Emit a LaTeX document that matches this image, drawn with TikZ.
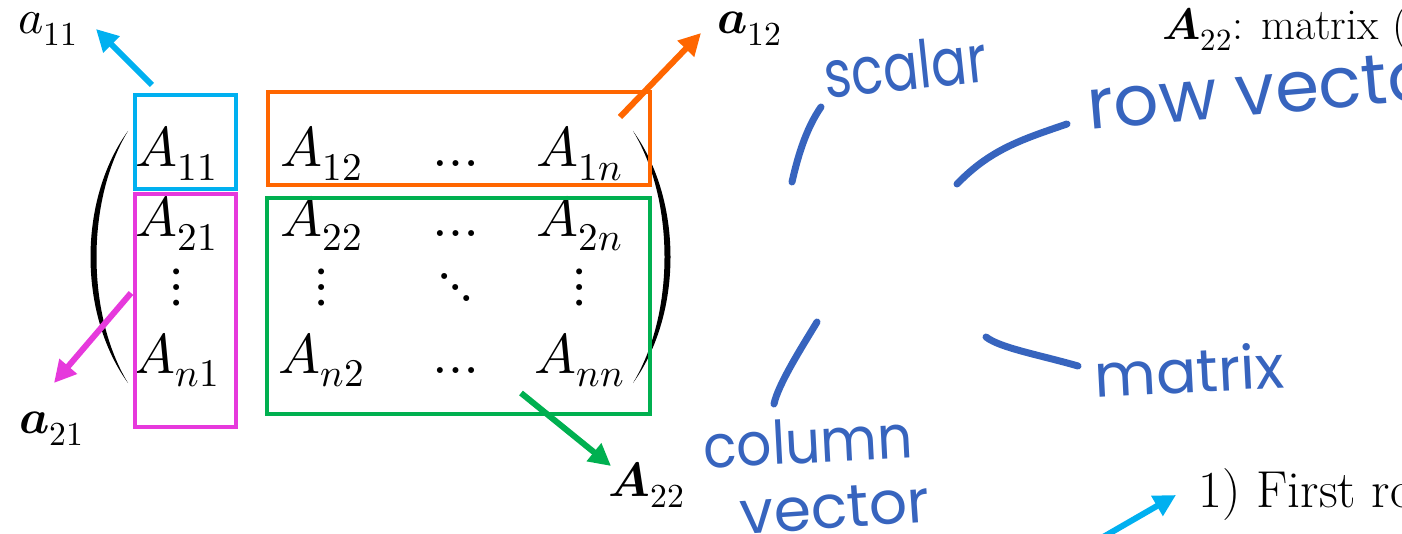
\documentclass[tikz,border=0pt]{standalone}
\usepackage{fontspec}
\usepackage{unicode-math}
\setmathfont{Latin Modern Math}
\newfontfamily\handfont{Poppins}
\usetikzlibrary{arrows.meta}
\definecolor{boxcyan}{RGB}{0,176,240}
\definecolor{boxorange}{RGB}{255,102,0}
\definecolor{boxmagenta}{RGB}{230,57,220}
\definecolor{boxgreen}{RGB}{0,176,80}
\definecolor{inkblue}{RGB}{55,100,190}
\begin{document}
\begin{tikzpicture}[x=0.5pt, y=-0.5pt, >={Triangle[length=11pt,width=11pt]},
  entry/.style={anchor=base, inner sep=0pt, font=\fontsize{28}{32}\selectfont},
  frame/.style={draw, line width=2pt, inner sep=0pt},
  pointer/.style={->, line width=3pt},
  lbl/.style={inner sep=0pt, font=\fontsize{24}{28}\selectfont},
  ink/.style={inkblue, line width=3.5pt, line cap=round},
  hand/.style={inkblue, inner sep=0pt, font=\handfont\fontsize{30}{30}\selectfont}]
\useasboundingbox (0,0) rectangle (1402,534);
\clip (0,0) rectangle (1402,534);

\node[entry] (m11) at (177,167) {$A_{11}$};
\node[entry] (m12) at (322,167) {$A_{12}$};
\node[entry] (m1d) at (456,167) {$\ldots$};
\node[entry] (m1n) at (580,167) {$A_{1n}$};

\node[entry] (m21) at (177,237) {$A_{21}$};
\node[entry] (m22) at (322,237) {$A_{22}$};
\node[entry] (m2d) at (456,237) {$\ldots$};
\node[entry] (m2n) at (580,237) {$A_{2n}$};

\node[entry, anchor=center] (v1) at (177,287) {$\vdots$};
\node[entry, anchor=center] (v2) at (322,287) {$\vdots$};
\node[entry, anchor=center] (dd) at (456,287) {$\ddots$};
\node[entry, anchor=center] (vn) at (580,287) {$\vdots$};

\node[entry] (mn1) at (177,373) {$A_{n1}$};
\node[entry] (mn2) at (322,373) {$A_{n2}$};
\node[entry] (mnd) at (456,373) {$\ldots$};
\node[entry] (mnn) at (580,373) {$A_{nn}$};

\fill (128,131) .. controls (78,200) and (78,314) .. (128,383)
  .. controls (86,314) and (86,200) .. (128,131);
\fill (633,131) .. controls (683,200) and (683,314) .. (633,383)
  .. controls (675,314) and (675,200) .. (633,131);

\node[frame, boxcyan, minimum width=50.5pt, minimum height=47pt] (b11) at (185.5,142) {};
\node[frame, boxorange, minimum width=191pt, minimum height=46.5pt] (b12) at (459,138.5) {};
\node[frame, boxmagenta, minimum width=50.5pt, minimum height=116.5pt] (b21) at (185.5,310.5) {};
\node[frame, boxgreen, minimum width=191.5pt, minimum height=108pt] (b22) at (458.5,306) {};

\node[lbl] (a11) at (48,29) {$a_{11}$};
\node[lbl] (a12) at (750,29) {$\symbfit{a}_{12}$};
\node[lbl] (a21) at (52,429) {$\symbfit{a}_{21}$};
\node[lbl] (A22) at (647,485) {$\symbfit{A}_{22}$};

\coordinate (t11) at (152,85);
\coordinate (h11) at (96,29);
\coordinate (t12) at (620,117);
\coordinate (h12) at (701,33);
\coordinate (t21) at (131,293);
\coordinate (h21) at (54,383);
\coordinate (t22) at (521,393);
\coordinate (h22) at (611,466);
\coordinate (t1) at (1098,540);
\coordinate (h1) at (1176,495);

\draw[pointer, boxcyan] (t11) -- (h11);
\draw[pointer, boxorange] (t12) -- (h12);
\draw[pointer, boxmagenta] (t21) -- (h21);
\draw[pointer, boxgreen] (t22) -- (h22);
\draw[pointer, boxcyan] (t1) -- (h1);

\node[anchor=base west, inner sep=0pt, font=\fontsize{22}{24}\selectfont] (title) at (1162,40) {$\symbfit{A}_{22}$: matrix (};
\node[anchor=base west, inner sep=0pt, font=\fontsize{26}{30}\selectfont] (first) at (1198,507) {1) First row};

\node[hand, rotate=6, xscale=0.88, yscale=1.1] (scalar) at (905,66) {scalar};
\node[hand, rotate=5, scale=1.18, anchor=west] (rowvec) at (1087,106) {row vector};
\node[hand, rotate=3] (matrix) at (1189,370) {matrix};
\node[hand, rotate=3, xscale=0.92] (column) at (808,441) {column};
\node[hand, rotate=4] (vector) at (835,508) {vector};

\coordinate (s1) at (821,107);
\coordinate (s2) at (792,182);
\coordinate (r1) at (1067,124);
\coordinate (r2) at (957,184);
\coordinate (c1) at (817,322);
\coordinate (c2) at (774,404);
\coordinate (x1) at (986,337);
\coordinate (x2) at (1078,366);

\draw[ink] (s1) .. controls (805,130) and (797,160) .. (s2);
\draw[ink] (r1) .. controls (1020,140) and (990,150) .. (r2);
\draw[ink] (c1) .. controls (800,350) and (778,385) .. (c2);
\draw[ink] (x1) .. controls (1000,348) and (1040,355) .. (x2);
\end{tikzpicture}
\end{document}
